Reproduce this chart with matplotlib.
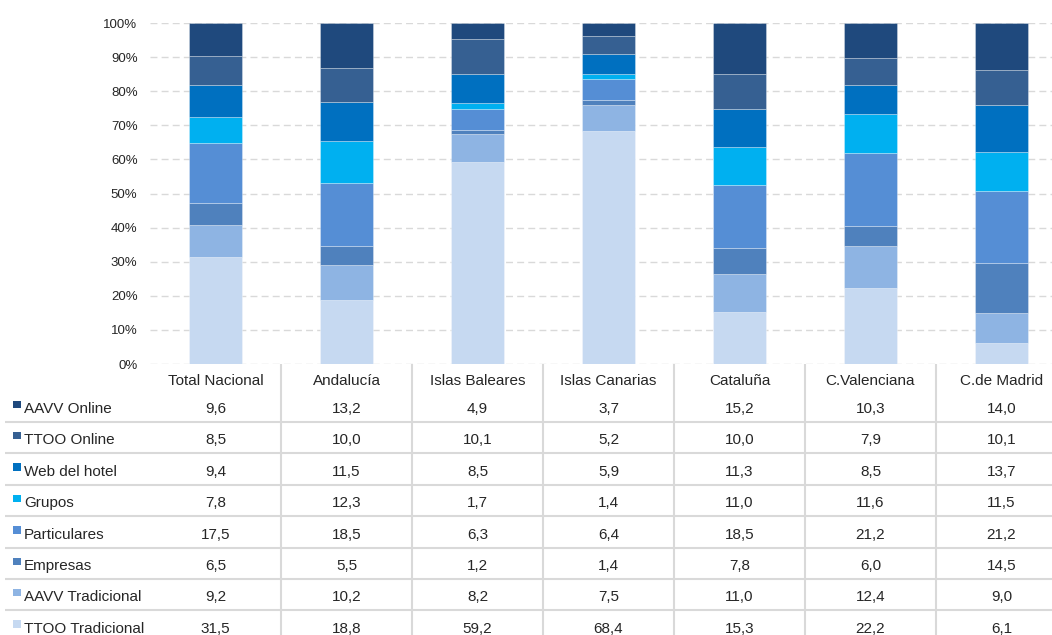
import matplotlib.pyplot as plt
import numpy as np

plt.rcParams["font.family"] = ["Liberation Sans", "DejaVu Sans"]

# ------------------------------------------------------------
# Data: share (%) of each sales channel by region
# ------------------------------------------------------------
regions = ["Total Nacional", "Andalucía", "Islas Baleares", "Islas Canarias",
           "Cataluña", "C.Valenciana", "C.de Madrid"]

# listed top to bottom as they appear in the table
channels = ["AAVV Online", "TTOO Online", "Web del hotel", "Grupos",
            "Particulares", "Empresas", "AAVV Tradicional", "TTOO Tradicional"]

aavv_online = [9.6, 13.2, 4.9, 3.7, 15.2, 10.3, 14.0]
ttoo_online = [8.5, 10.0, 10.1, 5.2, 10.0, 7.9, 10.1]
web_hotel = [9.4, 11.5, 8.5, 5.9, 11.3, 8.5, 13.7]
grupos = [7.8, 12.3, 1.7, 1.4, 11.0, 11.6, 11.5]
particulares = [17.5, 18.5, 6.3, 6.4, 18.5, 21.2, 21.2]
empresas = [6.5, 5.5, 1.2, 1.4, 7.8, 6.0, 14.5]
aavv_tradicional = [9.2, 10.2, 8.2, 7.5, 11.0, 12.4, 9.0]
ttoo_tradicional = [31.5, 18.8, 59.2, 68.4, 15.3, 22.2, 6.1]

series = [aavv_online, ttoo_online, web_hotel, grupos,
          particulares, empresas, aavv_tradicional, ttoo_tradicional]

colors = ["#1F497D", "#366092", "#0070C0", "#00B0F0",
          "#558ED5", "#4F81BD", "#8EB4E3", "#C6D9F1"]

TEXT = "#262626"
GRID = "#D9D9D9"

W, H = 1052, 635
fig = plt.figure(figsize=(W / 100, H / 100), dpi=100)

# chart area in pixels
left_px, right_px, top_px, bottom_px = 150, 1052, 23, 364
step_px = 131.0
ax = fig.add_axes([left_px / W, 1 - bottom_px / H,
                   (right_px - left_px) / W, (bottom_px - top_px) / H])

x = np.arange(len(regions))
x0 = -0.5
x1 = x0 + (right_px - left_px) / step_px

# stack from the bottom: TTOO Tradicional first
bottom = np.zeros(len(regions))
for name, vals, col in reversed(list(zip(channels, series, colors))):
    v = np.array(vals)
    ax.bar(x, v, 0.4, bottom=bottom, color=col, edgecolor=(1, 1, 1, 0.35),
           linewidth=0.6, zorder=3, label=name)
    bottom += v

ax.set_xlim(x0, x1)
ax.set_ylim(0, 100)
ax.set_yticks(np.arange(0, 101, 10))
ax.set_yticklabels([f"{t}%" for t in range(0, 101, 10)])
ax.tick_params(axis="y", length=0, pad=9, labelsize=9.5, labelcolor=TEXT)
ax.set_xticks([])
ax.grid(axis="y", color=GRID, linestyle=(0, (5, 3)), linewidth=1, zorder=0)
for s in ax.spines.values():
    s.set_visible(False)
ax.patch.set_alpha(0)

# ------------------------------------------------------------
# Data table under the bars
# ------------------------------------------------------------
tab = fig.add_axes([0, 0, 1, 1 - bottom_px / H])
tab.set_xlim(x0 - left_px / step_px, x1)
tab.set_ylim(H, bottom_px)
tab.axis("off")

fs = 11
header_y = 381
row0_y = 409
row_h = 31.4
line_off = 13

for i, reg in enumerate(regions):
    tab.text(i, header_y, reg, ha="center", va="center", fontsize=fs, color=TEXT)

# column separators
for i in range(len(regions) - 1):
    tab.plot([i + 0.5, i + 0.5], [bottom_px, H], color=GRID, lw=1.5,
             solid_capstyle="butt")

xl = tab.get_xlim()[0]
sq = 8 / step_px
for r, (name, vals, col) in enumerate(zip(channels, series, colors)):
    yc = row0_y + r * row_h
    tab.add_patch(plt.Rectangle((xl + 13 / step_px, yc - 8.5), sq, 7.5,
                                color=col, lw=0))
    tab.text(xl + 24 / step_px, yc, name, ha="left", va="center",
             fontsize=fs, color=TEXT)
    for i, v in enumerate(vals):
        tab.text(i, yc, f"{v:.1f}".replace(".", ","), ha="center",
                 va="center", fontsize=fs, color=TEXT)
    if r < len(channels) - 1:
        tab.plot([xl + 5 / step_px, x1], [yc + line_off, yc + line_off],
                 color=GRID, lw=1.5, solid_capstyle="butt")

fig.savefig("out.png", dpi=100)
